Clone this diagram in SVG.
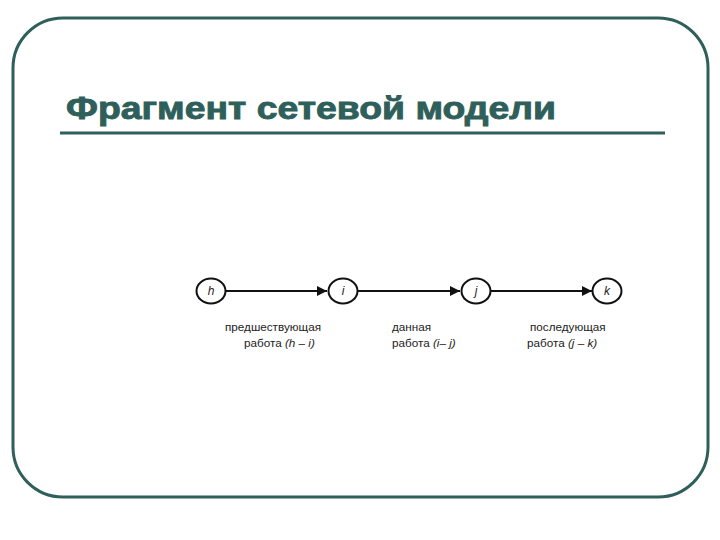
<svg xmlns="http://www.w3.org/2000/svg" width="720" height="540" viewBox="0 0 720 540">
<style>
.frame{fill:none;stroke:#2f5f5a;stroke-width:3}
.title{font-family:"Liberation Sans",Arial,sans-serif;font-weight:bold;font-size:32px;fill:#2f5f5a;stroke:#2f5f5a;stroke-width:0.9}
.node{fill:#fff;stroke:#111;stroke-width:2}
.nlabel{font-family:"Liberation Sans",Arial,sans-serif;font-style:italic;font-size:12px;fill:#222;text-anchor:middle}
.edge{stroke:#111;stroke-width:2;fill:none}
.lbl{font-family:"Liberation Sans",Arial,sans-serif;font-size:11.7px;fill:#222}
.it{font-style:italic}
</style>
<defs>
<marker id="arr" viewBox="0 0 10 10" refX="10" refY="5" markerWidth="5" markerHeight="5" orient="auto" markerUnits="strokeWidth">
<path d="M0,0 L10,5 L0,10 z" fill="#111"/>
</marker>
</defs>
<rect width="720" height="540" fill="#fff"/>
<rect class="frame" x="13" y="18" width="695" height="479" rx="50" ry="50"/>
<text class="title" x="66" y="119" textLength="490" lengthAdjust="spacingAndGlyphs">Фрагмент сетевой модели</text>
<line x1="60" y1="133" x2="665" y2="133" stroke="#2f5f5a" stroke-width="3"/>
<g id="connectors">
<line class="edge" x1="226" y1="291" x2="327" y2="291" marker-end="url(#arr)"/>
<line class="edge" x1="358" y1="291" x2="460" y2="291" marker-end="url(#arr)"/>
<line class="edge" x1="490" y1="291" x2="592" y2="291" marker-end="url(#arr)"/>
</g>
<g id="node-h"><ellipse class="node" cx="211" cy="291" rx="14.5" ry="12.5"/><text class="nlabel" x="211" y="295">h</text></g>
<g id="node-i"><ellipse class="node" cx="343" cy="291" rx="14.5" ry="12.5"/><text class="nlabel" x="343" y="295">i</text></g>
<g id="node-j"><ellipse class="node" cx="476" cy="291" rx="14.5" ry="12.5"/><text class="nlabel" x="476" y="295">j</text></g>
<g id="node-k"><ellipse class="node" cx="607" cy="291" rx="14.5" ry="12.5"/><text class="nlabel" x="607" y="295">k</text></g>
<g id="labels">
<text class="lbl" x="225" y="331">предшествующая</text>
<text class="lbl" x="244" y="347">работа <tspan class="it">(h – i)</tspan></text>
<text class="lbl" x="392" y="331">данная</text>
<text class="lbl" x="392" y="347">работа <tspan class="it">(i– j)</tspan></text>
<text class="lbl" x="530" y="331">последующая</text>
<text class="lbl" x="527" y="347">работа <tspan class="it">(j – k)</tspan></text>
</g>
</svg>
